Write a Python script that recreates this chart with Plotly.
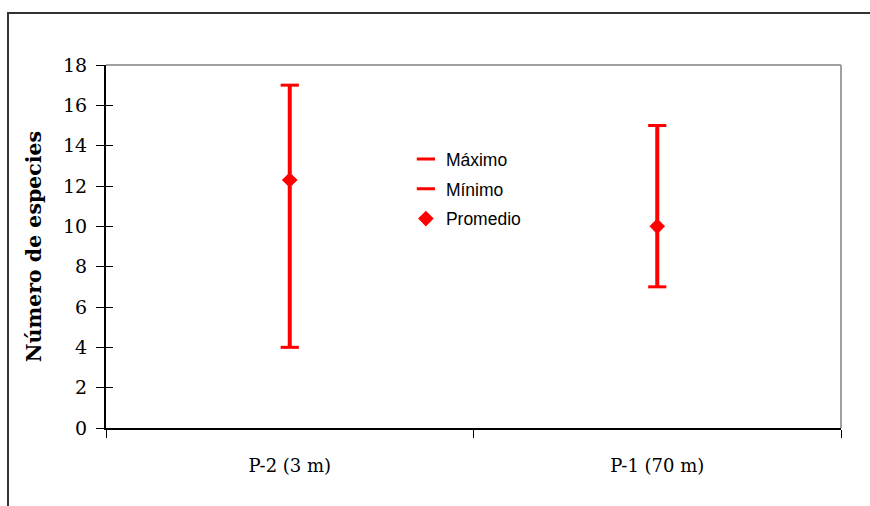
import plotly.graph_objects as go

categories = ["P-2 (3 m)", "P-1 (70 m)"]
maximo = [17, 15]
minimo = [4, 7]
promedio = [12.3, 10]
y_ticks = [0, 2, 4, 6, 8, 10, 12, 14, 16, 18]

RED = "#ff0000"
fig = go.Figure()

# high-low lines
for c, lo, hi in zip(categories, minimo, maximo):
    fig.add_trace(go.Scatter(x=[c, c], y=[lo, hi], mode="lines",
                             line=dict(color=RED, width=4), showlegend=False,
                             hoverinfo="skip"))

fig.add_trace(go.Scatter(x=categories, y=maximo, mode="markers", name="Máximo",
                         legendgroup="a",
                         marker=dict(symbol="line-ew", size=13, color=RED,
                                     line=dict(color=RED, width=3))))
fig.add_trace(go.Scatter(x=categories, y=minimo, mode="markers", name="Mínimo",
                         legendgroup="b",
                         marker=dict(symbol="line-ew", size=13, color=RED,
                                     line=dict(color=RED, width=3))))
fig.add_trace(go.Scatter(x=categories, y=promedio, mode="markers", name="Promedio",
                         legendgroup="c",
                         marker=dict(symbol="diamond", size=12, color=RED,
                                     line=dict(width=0))))

serif = "DejaVu Serif"
fig.update_layout(
    width=870, height=506,
    margin=dict(l=106, r=29, t=65, b=78),
    paper_bgcolor="white", plot_bgcolor="white",
    showlegend=True,
    legend=dict(x=0.408, y=0.79, xanchor="left", yanchor="top",
                font=dict(family="Liberation Sans", size=17.5, color="black"),
                bgcolor="rgba(0,0,0,0)", tracegroupgap=4,
                traceorder="grouped", itemwidth=30),
    xaxis=dict(type="category", categoryorder="array", categoryarray=categories,
               range=[-0.5, 1.5], tickson="boundaries", ticks="outside",
               ticklen=8, tickwidth=1, tickcolor="black",
               showline=True, linecolor="black", linewidth=2, mirror=False,
               showgrid=False, zeroline=False,
               tickfont=dict(family=serif, size=18, color="black"),
               ticklabelstandoff=20),
    yaxis=dict(range=[0, 18], tickvals=y_ticks, ticks="outside", ticklen=8,
               tickwidth=1, tickcolor="black",
               showline=True, linecolor="black", linewidth=2,
               showgrid=False, zeroline=False,
               tickfont=dict(family=serif, size=19, color="black"),
               ticklabelstandoff=5,
               title=dict(text="<b>Número de especies</b>",
                          font=dict(family=serif, size=20.5, color="black"),
                          standoff=16)),
    yaxis2=dict(range=[0, 18], tickvals=y_ticks, ticks="inside", ticklen=7,
                tickwidth=1, tickcolor="black", overlaying="y", side="left",
                anchor="x", showticklabels=False, showgrid=False,
                zeroline=False, showline=False),
    shapes=[
        # grey top and right plot border
        dict(type="line", xref="paper", yref="paper", x0=0, x1=1, y0=1, y1=1,
             line=dict(color="#a0a0a0", width=2)),
        dict(type="line", xref="paper", yref="paper", x0=1, x1=1, y0=0, y1=1,
             line=dict(color="#a0a0a0", width=2)),
        # outer chart frame
        dict(type="rect", xref="paper", yref="paper",
             x0=(8 - 106) / 735, x1=(900 - 106) / 735,
             y0=(428 - 540) / 363, y1=(428 - 13) / 363,
             line=dict(color="#333333", width=2), layer="below"),
    ],
)
# dummy trace on yaxis2 so ticks render
fig.add_trace(go.Scatter(x=[categories[0]], y=[None], yaxis="y2",
                         showlegend=False, hoverinfo="skip"))

fig.write_html("out.html")
